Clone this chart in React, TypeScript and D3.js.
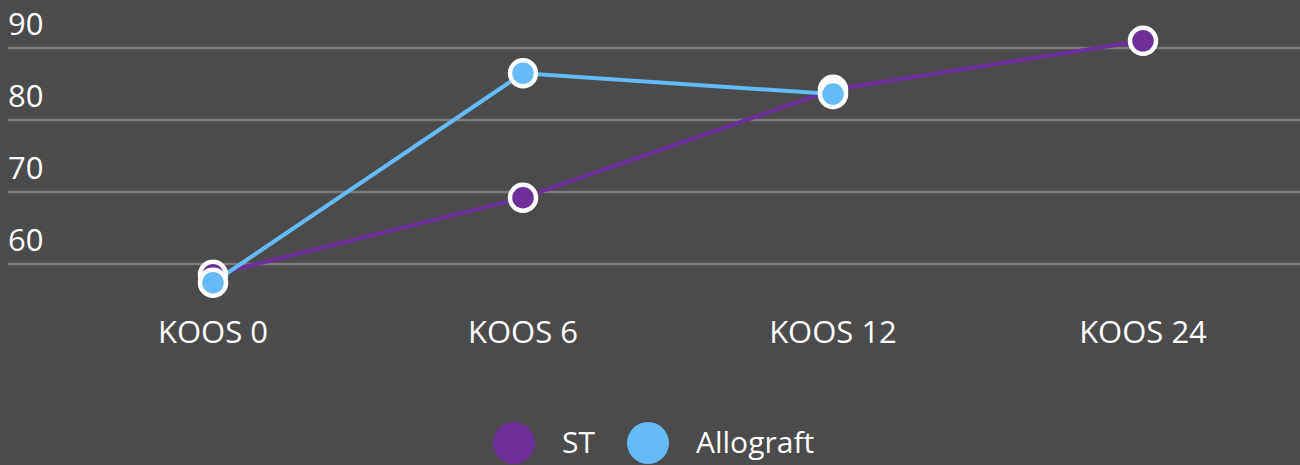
import React from "react";
import * as d3 from "d3";

const categories = ["KOOS 0", "KOOS 6", "KOOS 12", "KOOS 24"];
const stValues: (number | null)[] = [58.5, 69.2, 84.2, 91.0];
const alloValues: (number | null)[] = [57.4, 86.5, 83.6, null];
const yTicks = [60, 70, 80, 90];
const seriesNames = ["ST", "Allograft"];
const seriesColors = ["#6d2f9a", "#64bbf7"];

const W = 1300;
const H = 465;
const FONT = "'Open Sans', 'Noto Sans', sans-serif";

export default function App() {
  const x = d3.scaleBand<string>().domain(categories).range([58, 1298]);
  const y = d3.scaleLinear().domain([60, 90]).range([264, 48]);
  const cx = (c: string) => (x(c) as number) + x.bandwidth() / 2;

  const series = [stValues, alloValues];
  const line = d3
    .line<[string, number | null]>()
    .defined((d) => d[1] !== null)
    .x((d) => cx(d[0]))
    .y((d) => y(d[1] as number));

  return (
    <div style={{ position: "fixed", left: 0, top: 0 }}>
      <svg width={W} height={H} style={{ display: "block", background: "#4b4b4b" }}>
        <rect x={0} y={0} width={W} height={H} fill="#4b4b4b" />
        {yTicks.map((t) => (
          <g key={t}>
            <line x1={8} x2={1300} y1={y(t)} y2={y(t)} stroke="#7a7a7a" strokeWidth={2.5} />
            <text x={8} y={y(t) - 13} fill="#ffffff" fontFamily={FONT} fontSize={31}>
              {t}
            </text>
          </g>
        ))}
        {categories.map((c) => (
          <text key={c} x={cx(c)} y={343} textAnchor="middle" fill="#ffffff" fontFamily={FONT} fontSize={31}>
            {c}
          </text>
        ))}
        {series.map((vals, si) => (
          <path
            key={"l" + si}
            d={line(categories.map((c, i) => [c, vals[i]] as [string, number | null])) || ""}
            fill="none"
            stroke={seriesColors[si]}
            strokeWidth={4}
          />
        ))}
        {series.map((vals, si) =>
          categories.map((c, i) =>
            vals[i] === null ? null : (
              <circle
                key={"p" + si + i}
                cx={cx(c)}
                cy={y(vals[i] as number)}
                r={13}
                fill={seriesColors[si]}
                stroke="#ffffff"
                strokeWidth={4.5}
              />
            )
          )
        )}
        <g>
          <circle cx={514} cy={443} r={21} fill={seriesColors[0]} />
          <text x={562} y={453} fill="#ffffff" fontFamily={FONT} fontSize={30}>
            {seriesNames[0]}
          </text>
          <circle cx={648} cy={443} r={21} fill={seriesColors[1]} />
          <text x={696} y={453} fill="#ffffff" fontFamily={FONT} fontSize={30}>
            {seriesNames[1]}
          </text>
        </g>
      </svg>
    </div>
  );
}
